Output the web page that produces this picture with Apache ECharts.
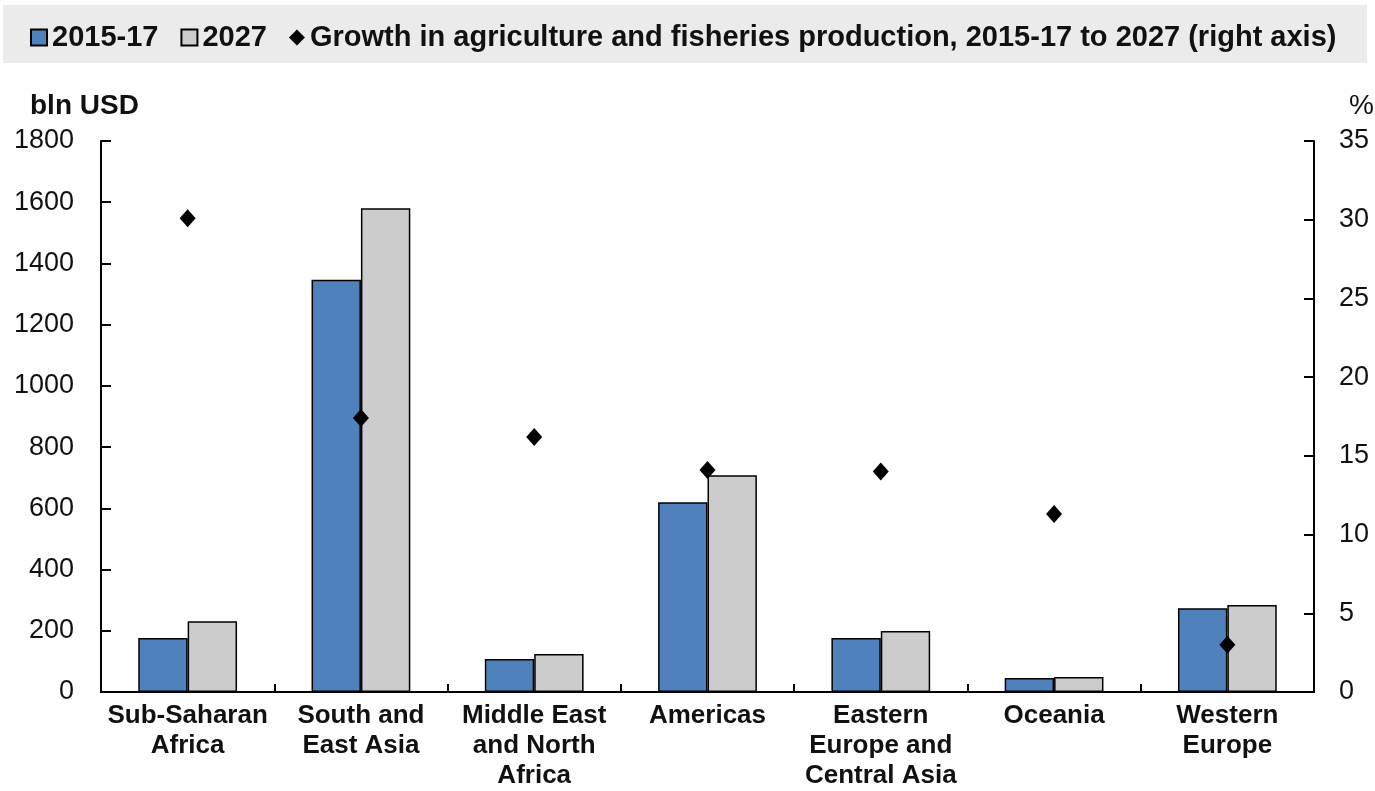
<!DOCTYPE html>
<html>
<head>
<meta charset="utf-8">
<script src="https://cdn.jsdelivr.net/npm/echarts@6/dist/echarts.min.js"></script>
<style>
html,body{margin:0;padding:0;background:#fff;}
#c{width:1375px;height:791px;}
</style>
</head>
<body>
<div id="c"></div>
<script>
const categories = ['Sub-Saharan\nAfrica','South and\nEast Asia','Middle East\nand North\nAfrica','Americas','Eastern\nEurope and\nCentral Asia','Oceania','Western\nEurope'];
const values2015_17 = [176, 1347, 108, 620, 176, 46, 274];
const values2027 = [231, 1580, 124, 708, 199, 49, 284];
const growthPct = [30.1, 17.4, 16.2, 14.1, 14.0, 11.3, 3.0];
const leftTicks = {min: 0, max: 1800, interval: 200};
const rightTicks = {min: 0, max: 35, interval: 5};

const FONT = "'Liberation Sans', Arial, sans-serif";
const chart = echarts.init(document.getElementById('c'));
chart.setOption({
  animation: false,
  textStyle: {fontFamily: FONT},
  graphic: [{
    type: 'rect', left: 3, top: 5, z: -10,
    shape: {width: 1364, height: 58},
    style: {fill: '#ebebeb'}
  }],
  title: [
    {text: 'bln USD', left: 25, top: 87, textStyle: {fontFamily: FONT, fontSize: 28, fontWeight: 'bold', color: '#111'}},
    {text: '%', left: 1344, top: 87, textStyle: {fontFamily: FONT, fontSize: 28, fontWeight: 'normal', color: '#111'}}
  ],
  legend: {
    left: 25, top: 18,
    itemWidth: 16, itemHeight: 16, itemGap: 22,
    textStyle: {fontFamily: FONT, fontSize: 29, fontWeight: 'bold', color: '#111'},
    data: [
      {name: '2015-17', icon: 'rect'},
      {name: '2027', icon: 'rect'},
      {name: 'Growth in agriculture and fisheries production, 2015-17 to 2027 (right axis)', icon: 'diamond'}
    ]
  },
  grid: {
    left: 101, right: 61, top: 141, bottom: 98, show: false
  },
  xAxis: [{
    type: 'category', data: categories, position: 'bottom',
    axisLine: {show: true, lineStyle: {color: '#000', width: 2}},
    axisTick: {show: true, inside: true, length: 8, lineStyle: {color: '#000', width: 2}},
    axisLabel: {margin: 9, fontFamily: FONT, fontSize: 26, fontWeight: 'bold', color: '#111', lineHeight: 30, interval: 0}
  }, {
    type: 'category', data: categories, position: 'top',
    axisLine: {show: true, lineStyle: {color: '#000', width: 2}},
    axisTick: {show: false}, axisLabel: {show: false}
  }],
  yAxis: [{
    type: 'value', min: leftTicks.min, max: leftTicks.max, interval: leftTicks.interval, position: 'left',
    axisLine: {show: true, lineStyle: {color: '#000', width: 2}},
    axisTick: {show: true, inside: true, length: 10, lineStyle: {color: '#000', width: 2}},
    axisLabel: {margin: 27, fontFamily: FONT, fontSize: 27, color: '#111', formatter: v => String(v)},
    splitLine: {show: false}
  }, {
    type: 'value', min: rightTicks.min, max: rightTicks.max, interval: rightTicks.interval, position: 'right',
    axisLine: {show: true, lineStyle: {color: '#000', width: 2}},
    axisTick: {show: true, inside: true, length: 10, lineStyle: {color: '#000', width: 2}},
    axisLabel: {margin: 25, fontFamily: FONT, fontSize: 27, color: '#111', formatter: v => String(v)},
    splitLine: {show: false}
  }],
  series: [{
    name: '2015-17', type: 'bar', data: values2015_17,
    barGap: '0%', barCategoryGap: '43%',
    itemStyle: {color: '#4f81bd', borderColor: '#000', borderWidth: 1.5}
  }, {
    name: '2027', type: 'bar', data: values2027,
    itemStyle: {color: '#cccccc', borderColor: '#000', borderWidth: 1.5}
  }, {
    name: 'Growth in agriculture and fisheries production, 2015-17 to 2027 (right axis)',
    type: 'scatter', yAxisIndex: 1, data: growthPct,
    symbol: 'diamond', symbolSize: [16, 18], z: 5,
    itemStyle: {color: '#000', opacity: 1}
  }]
});
</script>
</body>
</html>
